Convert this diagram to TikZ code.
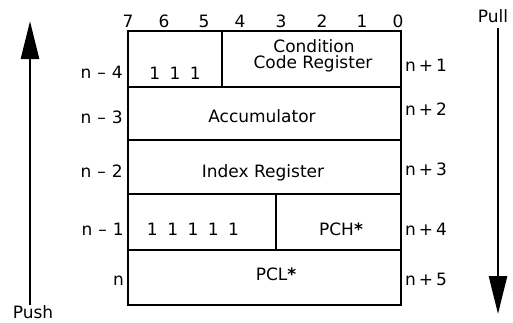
\documentclass[tikz,border=0pt]{standalone}
\usepackage{fontspec}
\setmainfont{DejaVu Sans}
\usetikzlibrary{arrows.meta}
\newcommand{\onesp}{\hspace{9.5pt}}
\newcommand{\msp}{\hspace{6pt}}
\newcommand{\psp}{\hspace{3pt}}
\begin{document}
\begin{tikzpicture}[x=1pt,y=-1pt,
  cell/.style={draw, line width=2.4pt, inner sep=0pt, minimum height=#1},
  txt/.style={font=\fontsize{17}{18}\selectfont, inner sep=0pt, anchor=base},
  lft/.style={font=\fontsize{17}{18}\selectfont, inner sep=0pt, anchor=base east},
  rgt/.style={font=\fontsize{17}{18}\selectfont, inner sep=0pt, anchor=base west},
  bigarrow/.style={line width=2.6pt, -{Triangle[length=38pt,width=18pt]}}]
\useasboundingbox (0,0) rectangle (513,322);
% cells
\node[cell=56, minimum width=94] (c1a) at (175,59) {};
\node[cell=56, minimum width=179] (c1b) at (311.5,59) {};
\node[cell=53, minimum width=273] (c2) at (264.5,113.5) {};
\node[cell=54, minimum width=273] (c3) at (264.5,167) {};
\node[cell=56, minimum width=148] (c4a) at (202,222) {};
\node[cell=56, minimum width=125] (c4b) at (338.5,222) {};
\node[cell=55, minimum width=273] (c5) at (264.5,277.5) {};
% bit numbers
\node[txt] (b7) at (128,27) {7};
\node[txt] (b6) at (164,27) {6};
\node[txt] (b5) at (204,27) {5};
\node[txt] (b4) at (240,27) {4};
\node[txt] (b3) at (281,27) {3};
\node[txt] (b2) at (322,27) {2};
\node[txt] (b1) at (362,27) {1};
\node[txt] (b0) at (398,27) {0};
% cell contents
\node[txt] (t1a) at (175,79) {1\onesp1\onesp1};
\node[txt] (t1b) at (314,52) {Condition};
\node[txt] (t1c) at (313,68) {Code Register};
\node[txt] (t2) at (262,122.5) {Accumulator};
\node[txt] (t3) at (263,177) {Index Register};
\node[txt] (t4a) at (193,235) {1\onesp1\onesp1\onesp1\onesp1};
\node[txt] (t4b) at (341,235) {PCH{\bfseries *}};
\node[txt] (t5) at (276,280) {PCL{\bfseries *}};
% left addresses
\node[lft] (l1) at (123,78) {n\msp–\msp4};
\node[lft] (l2) at (123,123) {n\msp–\msp3};
\node[lft] (l3) at (123,177) {n\msp–\msp2};
\node[lft] (l4) at (124,235) {n\msp–\msp1};
\node[lft] (l5) at (124,285) {n};
% right addresses
\node[rgt] (r1) at (405,71) {n\psp+\psp1};
\node[rgt] (r2) at (405,115) {n\psp+\psp2};
\node[rgt] (r3) at (405,175) {n\psp+\psp3};
\node[rgt] (r4) at (405,235) {n\psp+\psp4};
\node[rgt] (r5) at (405,285) {n\psp+\psp5};
% arrows
\coordinate (pushS) at (30,305);
\coordinate (pushE) at (30,21);
\coordinate (pullS) at (498,28);
\coordinate (pullE) at (498,314);
\draw[bigarrow] (pushS) -- (pushE);
\draw[bigarrow] (pullS) -- (pullE);
\node[txt] (push) at (33,318) {Push};
\node[txt] (pull) at (493,22) {Pull};
\end{tikzpicture}
\end{document}
